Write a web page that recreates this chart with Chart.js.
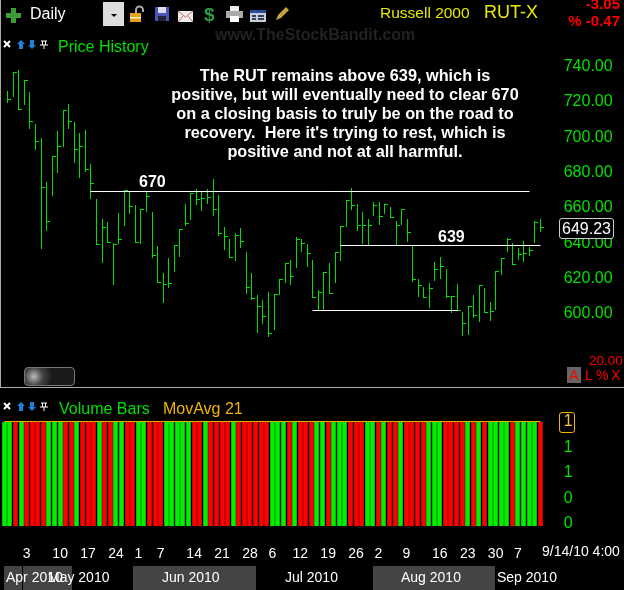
<!DOCTYPE html>
<html>
<head>
<meta charset="utf-8">
<script src="https://cdn.jsdelivr.net/npm/chart.js@4"></script>
<style>
html, body { margin: 0; padding: 0; background: #000; }
#page { position: relative; width: 624px; height: 590px; overflow: hidden; background: #000; font-family: "Liberation Sans", sans-serif; }
#page canvas { position: absolute; left: 0; }
.t { position: absolute; white-space: nowrap; line-height: 1; }
.r { position: absolute; }
svg { position: absolute; overflow: visible; }
</style>
</head>
<body>
<div id="page">
  <canvas id="priceChart" width="624" height="397" style="top:0"></canvas>
  <canvas id="volumeChart" width="624" height="202" style="top:388px"></canvas>

  <div class="r" style="left:0;top:0;width:1px;height:388px;background:#aaa"></div>
  <div class="r" style="left:0;top:387px;width:624px;height:1px;background:#aaa"></div>

  <!-- toolbar -->
  <svg style="left:6px;top:8px" width="15" height="15"><path d="M5 0h5v5h5v5h-5v5h-5v-5h-5v-5h5z" fill="#3f9c35"/></svg>
  <div class="t" style="left:30px;top:6px;font-size:16px;color:#fff">Daily</div>
  <div class="r" style="left:103px;top:2px;width:21px;height:24px;background:#ddd"></div>
  <svg style="left:111px;top:14px" width="6" height="4"><path d="M0 0h6l-3 3z" fill="#000"/></svg>
  <svg style="left:130px;top:6px" width="16" height="16"><path d="M6 7v-3a3.5 3.5 0 0 1 7 0v2" fill="none" stroke="#aaa" stroke-width="2"/><rect x="0" y="7" width="11" height="9" fill="#e8a020"/><rect x="0" y="11" width="11" height="1.5" fill="#fff3c0"/></svg>
  <svg style="left:155px;top:7px" width="14" height="14"><rect width="14" height="14" fill="#4a55b8"/><rect x="3" y="0" width="8" height="6" fill="#dde"/><rect x="3" y="9" width="8" height="5" fill="#223"/></svg>
  <svg style="left:178px;top:11px" width="15" height="11"><rect width="15" height="11" fill="#eee"/><path d="M0 0l7.5 6l7.500-6M0 11l5-6M15 11l-5-6" fill="none" stroke="#c66" stroke-width="1"/></svg>
  <div class="t" style="left:204px;top:5px;font-size:19px;font-weight:bold;color:#2e9a4a">$</div>
  <svg style="left:226px;top:6px" width="17" height="16"><rect x="4" y="0" width="9" height="5" fill="#eee"/><rect x="0" y="5" width="17" height="7" fill="#aaa"/><rect x="4" y="10" width="9" height="6" fill="#fff"/></svg>
  <svg style="left:250px;top:10px" width="16" height="12"><rect width="16" height="12" fill="#ccd"/><rect width="16" height="3" fill="#2a4a9a"/><rect x="2" y="5" width="4" height="2" fill="#345"/><rect x="8" y="5" width="6" height="2" fill="#345"/><rect x="2" y="8" width="4" height="2" fill="#345"/><rect x="8" y="8" width="6" height="2" fill="#345"/></svg>
  <svg style="left:275px;top:7px" width="14" height="14"><path d="M1 13l2-5l8-8l3 3l-8 8z" fill="#c9a040"/></svg>
  <div class="t" style="left:215px;top:27px;font-size:16px;font-weight:bold;color:#222">www.TheStockBandit.com</div>
  <div class="t" style="left:380px;top:5px;font-size:15.500px;color:#e8e800">Russell 2000</div>
  <div class="t" style="left:484px;top:3px;font-size:18px;color:#e8e800">RUT-X</div>
  <div class="t" style="right:4px;top:-4px;font-size:15px;font-weight:bold;color:#f00">-3.05</div>
  <div class="t" style="right:4px;top:13px;font-size:15px;font-weight:bold;color:#f00">% -0.47</div>

  <!-- panel headers -->
  <svg style="left:3px;top:40px" width="46" height="10"><path d="M1 1l6 6M7 1l-6 6" stroke="#fff" stroke-width="2"/><path d="M14 4l4-4l4 4h-2v5h-4v-5z" fill="#1e7fd8"/><path d="M25 5l4 4l4-4h-2v-5h-4v5z" fill="#1e7fd8"/><path d="M38 1h6M39.500 1v4M42.500 1v4M37 5h8M41 5v4" stroke="#fff" stroke-width="1" fill="none"/></svg>
  <div class="t" style="left:58px;top:39px;font-size:16px;color:#00e000">Price History</div>
  <svg style="left:3px;top:402px" width="46" height="10"><path d="M1 1l6 6M7 1l-6 6" stroke="#fff" stroke-width="2"/><path d="M14 4l4-4l4 4h-2v5h-4v-5z" fill="#1e7fd8"/><path d="M25 5l4 4l4-4h-2v-5h-4v5z" fill="#1e7fd8"/><path d="M38 1h6M39.500 1v4M42.500 1v4M37 5h8M41 5v4" stroke="#fff" stroke-width="1" fill="none"/></svg>
  <div class="t" style="left:59px;top:401px;font-size:16px;color:#00e000">Volume Bars</div>
  <div class="t" style="left:163px;top:401px;font-size:16px;color:#f0b400">MovAvg 21</div>

  <!-- comment text -->
  <div class="t" style="left:130px;top:66px;width:430px;text-align:center;font-size:16.300px;font-weight:bold;line-height:19px;color:#fff">The RUT remains above 639, which is<br>positive, but will eventually need to clear 670<br>on a closing basis to truly be on the road to<br>recovery.&nbsp; Here it's trying to rest, which is<br>positive and not at all harmful.</div>
  <div class="t" style="left:139px;top:174px;font-size:16px;font-weight:bold;color:#fff">670</div>
  <div class="t" style="left:438px;top:229px;font-size:16px;font-weight:bold;color:#fff">639</div>

  <!-- last price box, scroll button, scale buttons -->
  <div class="t" style="left:559px;top:218px;width:53px;height:19px;border:1px solid #ccc;border-radius:3px;background:#000;color:#fff;font-size:16px;line-height:19px;text-align:center">649.23</div>
  <div class="r" style="left:24px;top:367px;width:49px;height:17px;border:1px solid #777;border-radius:4px;background:radial-gradient(circle at 18% 50%,#bbb 0,#444 22%,#1a1a1a 45%)"></div>
  <div class="t" style="left:589px;top:354px;font-size:13.500px;color:#f00">20.00</div>
  <div class="t" style="left:567px;top:367px;width:14px;height:16px;background:#666;color:#f00;font-size:14px;line-height:16px;text-align:center">A</div>
  <div class="t" style="left:585px;top:368px;font-size:14px;color:#f00">L</div>
  <div class="t" style="left:596px;top:368px;font-size:14px;color:#f00">%</div>
  <div class="t" style="left:611px;top:368px;font-size:14px;color:#f00">X</div>

  <!-- volume current value box -->
  <div class="r" style="left:559px;top:412px;width:14px;height:19px;border:1px solid #f0b400;border-radius:3px"></div>

  <!-- date and month band -->
  <div class="t" style="left:542px;top:544px;font-size:14px;color:#fff">9/14/10 4:00</div>
  <div class="r" style="left:4px;top:566px;width:18px;height:24px;background:#444"></div>
  <div class="r" style="left:23px;top:566px;width:49px;height:24px;background:#444"></div>
  <div class="r" style="left:133px;top:566px;width:123px;height:24px;background:#444"></div>
  <div class="r" style="left:373px;top:566px;width:122px;height:24px;background:#444"></div>
  <div class="t" style="left:6px;top:570px;font-size:14px;color:#fff">Apr 2010</div>
  <div class="t" style="left:48px;top:570px;font-size:14px;color:#fff">May 2010</div>
  <div class="t" style="left:162px;top:570px;font-size:14px;color:#fff">Jun 2010</div>
  <div class="t" style="left:285px;top:570px;font-size:14px;color:#fff">Jul 2010</div>
  <div class="t" style="left:401px;top:570px;font-size:14px;color:#fff">Aug 2010</div>
  <div class="t" style="left:497px;top:570px;font-size:14px;color:#fff">Sep 2010</div>
</div>

<script>
let highs = [
    726.1, 736.8, 738.1, 732.4, 725.4, 707.8, 699.8, 674.6, 689.2, 703.4,
    715.3, 718.6, 708.4, 702.7, 704.4, 685.1, 665.2, 653.8, 652.3, 640.2,
    657.2, 669.9, 668.8, 661.8, 659.5, 668.8, 657.8, 638.5, 623.1, 631.6,
    639.0, 648.1, 662.3, 668.4, 670.9, 668.9, 670.9, 676.5, 667.6, 649.3,
    642.4, 645.9, 648.7, 635.1, 623.1, 610.6, 607.8, 612.3, 611.2, 619.7,
    628.8, 630.5, 643.6, 642.4, 639.6, 630.5, 613.5, 623.7, 628.8, 634.8,
    649.8, 664.6, 671.4, 662.3, 657.8, 653.8, 663.5, 663.5, 662.3, 660.6,
    652.7, 659.5, 653.8, 638.5, 619.7, 615.2, 617.4, 629.4, 632.2, 625.4,
    610.2, 616.9, 601.0, 604.7, 610.6, 616.1, 614.6, 606.6, 624.3, 631.6,
    642.8, 640.2, 637.3, 641.3, 637.9, 652.7, 653.8
];

let lows = [
    719.2, 722.9, 715.7, 718.2, 704.5, 692.6, 636.5, 646.8, 667.0, 679.7,
    694.5, 704.7, 685.4, 676.9, 680.3, 664.9, 639.0, 628.6, 639.9, 616.6,
    639.4, 649.6, 656.4, 639.9, 639.4, 657.6, 631.8, 617.2, 606.4, 614.4,
    623.5, 632.0, 650.0, 653.4, 661.4, 658.0, 662.5, 655.7, 644.3, 636.4,
    631.8, 630.1, 637.5, 611.0, 607.8, 589.4, 594.5, 586.8, 591.1, 610.4,
    617.2, 616.5, 625.7, 634.8, 626.3, 608.7, 602.1, 602.1, 611.0, 617.2,
    630.1, 649.0, 659.1, 647.2, 639.4, 638.5, 655.7, 650.6, 656.8, 654.1,
    638.5, 650.6, 640.9, 618.2, 609.7, 608.7, 603.4, 618.4, 619.5, 608.7,
    600.7, 601.5, 587.7, 588.2, 597.9, 595.1, 600.7, 596.2, 602.4, 621.8,
    634.8, 627.7, 630.5, 629.1, 632.8, 640.3, 646.4
];

let closes = [
    721.4, 736.5, 716.0, 732.1, 708.9, 697.7, 671.6, 652.1, 688.9, 694.7,
    715.0, 708.9, 693.0, 694.7, 681.7, 673.7, 639.3, 648.7, 640.2, 639.2,
    641.9, 669.6, 660.8, 640.2, 659.2, 666.5, 633.1, 617.8, 616.9, 617.4,
    638.7, 647.8, 651.3, 668.1, 664.9, 665.2, 666.1, 659.3, 645.3, 643.8,
    632.1, 644.1, 640.7, 615.2, 608.5, 604.0, 598.3, 589.0, 610.9, 619.4,
    628.5, 620.9, 641.9, 639.6, 633.9, 609.3, 612.3, 623.4, 611.8, 634.5,
    649.5, 664.3, 661.2, 649.8, 649.8, 649.8, 661.2, 654.9, 662.0, 654.4,
    649.8, 658.9, 645.9, 619.7, 616.3, 609.0, 614.6, 625.4, 627.1, 609.8,
    609.9, 602.1, 594.7, 604.4, 599.0, 615.9, 601.0, 601.5, 624.0, 631.3,
    641.9, 628.2, 633.4, 633.9, 635.6, 651.5, 648.7
];

// 1 = up day (green), 0 = down day (red)
let volumeUp = [
    1, 1, 0, 1, 0, 0, 0, 0, 1, 1,
    1, 0, 0, 1, 0, 0, 0, 1, 0, 0,
    1, 1, 0, 0, 1, 1, 0, 0, 0, 1,
    1, 1, 1, 1, 0, 0, 1, 0, 0, 0,
    0, 1, 0, 0, 0, 0, 0, 0, 1, 1,
    1, 0, 1, 0, 0, 0, 1, 1, 0, 1,
    1, 1, 0, 0, 0, 1, 1, 0, 1, 0,
    0, 1, 0, 0, 0, 0, 1, 1, 1, 0,
    0, 0, 0, 1, 0, 1, 0, 1, 1, 1,
    1, 0, 1, 1, 1, 1, 0
];

let volumes = [
    1, 1, 1, 1, 1, 1, 1, 1, 1, 1,
    1, 1, 1, 1, 1, 1, 1, 1, 1, 1,
    1, 1, 1, 1, 1, 1, 1, 1, 1, 1,
    1, 1, 1, 1, 1, 1, 1, 1, 1, 1,
    1, 1, 1, 1, 1, 1, 1, 1, 1, 1,
    1, 1, 1, 1, 1, 1, 1, 1, 1, 1,
    1, 1, 1, 1, 1, 1, 1, 1, 1, 1,
    1, 1, 1, 1, 1, 1, 1, 1, 1, 1,
    1, 1, 1, 1, 1, 1, 1, 1, 1, 1,
    1, 1, 1, 1, 1, 1, 1
];

let priceTicks = [600, 620, 640, 660, 680, 700, 720, 740];
let volumeTicks = [0, 0.25, 0.5, 0.75, 1];
let volumeTickLabels = ['0', '0', '1', '1', '1'];

// bar index of each date label on the bottom axis
let dateTickBars = [4, 10, 15, 20, 24, 28, 34, 39, 44, 48, 53, 58, 63, 67, 72, 78, 83, 88, 92];
let dateTickLabels = ['3', '10', '17', '24', '1', '7', '14', '21', '28', '6', '12', '19', '26', '2', '9', '16', '23', '30', '7'];

// hand drawn trend lines: [first bar, last bar, price]
let trendLines = [
    [15, 94, 669.2],
    [60, 96, 638.5],
    [55, 81, 602.1]
];

const barLabels = highs.map((h, i) => i);
const plotLeft = 1.5;
const axisWidth = 80.9;

// keep bars, ticks and lines on whole pixels so they stay as hard as the original
const snapToPixels = {
    id: 'snapToPixels',
    afterDatasetsUpdate(chart) {
        chart.data.datasets.forEach((ds, i) => {
            chart.getDatasetMeta(i).data.forEach(el => {
                el.x = Math.floor(el.x) + 0.5;
                if (el.base !== undefined) {
                    el.y = Math.round(el.y);
                    el.base = Math.round(el.base);
                } else {
                    el.y = Math.floor(el.y) + 0.5;
                }
            });
        });
    }
};

// close tick: sticks out to the right of the bar only
const closeTick = document.createElement('canvas');
closeTick.width = 7;
closeTick.height = 1;
const tickCtx = closeTick.getContext('2d');
tickCtx.fillStyle = '#00e000';
tickCtx.fillRect(3, 0, 4, 1);

const lineDatasets = trendLines.map(l => ({
    type: 'line',
    data: [{ x: l[0], y: l[2] }, { x: l[1], y: l[2] }],
    borderColor: '#fff',
    borderWidth: 1,
    pointRadius: 0,
    order: 1
}));

const priceChart = new Chart(document.getElementById('priceChart'), {
    type: 'bar',
    data: {
        labels: barLabels,
        datasets: [{
            data: highs.map((h, i) => [lows[i], h]),
            backgroundColor: '#00e000',
            barThickness: 1,
            inflateAmount: 0,
            order: 3
        }, {
            type: 'line',
            data: closes,
            showLine: false,
            pointStyle: closeTick,
            order: 2
        }].concat(lineDatasets)
    },
    options: {
        responsive: false,
        animation: false,
        events: [],
        layout: { padding: { left: plotLeft, top: 31.4, bottom: 22.2 } },
        plugins: { legend: { display: false }, tooltip: { enabled: false } },
        scales: {
            x: { display: false },
            y: {
                position: 'right',
                min: 570,
                max: 760,
                grid: { display: false, drawTicks: false },
                border: { display: false },
                afterBuildTicks: s => { s.ticks = priceTicks.map(v => ({ value: v })); },
                afterFit: s => { s.width = axisWidth; },
                ticks: {
                    padding: 20.6,
                    color: '#00e000',
                    font: { family: 'Liberation Sans', size: 16 },
                    callback: v => v.toFixed(2)
                }
            }
        }
    },
    plugins: [snapToPixels]
});

const volumeChart = new Chart(document.getElementById('volumeChart'), {
    type: 'bar',
    data: {
        labels: barLabels,
        datasets: [{
            data: volumes,
            base: -0.02,
            backgroundColor: volumeUp.map(u => u ? '#00f000' : '#ff0000'),
            barThickness: 4.6,
            inflateAmount: 0,
            order: 2
        }, {
            type: 'line',
            data: volumes,
            borderColor: '#f0b400',
            borderWidth: 1,
            pointRadius: 0,
            clip: false,
            order: 1
        }]
    },
    options: {
        responsive: false,
        animation: false,
        events: [],
        layout: { padding: { left: plotLeft, top: 33.5 } },
        plugins: { legend: { display: false }, tooltip: { enabled: false } },
        scales: {
            x: {
                grid: { display: false, drawTicks: false },
                border: { display: false },
                afterFit: s => { s.height = 64; },
                ticks: {
                    autoSkip: false,
                    maxRotation: 0,
                    padding: 20,
                    color: '#fff',
                    font: { family: 'Liberation Sans', size: 14 },
                    callback: (v, i) => {
                        const at = dateTickBars.indexOf(i);
                        return at < 0 ? null : dateTickLabels[at];
                    }
                }
            },
            y: {
                position: 'right',
                min: -0.02,
                max: 1,
                grid: { display: false, drawTicks: false },
                border: { display: false },
                afterBuildTicks: s => { s.ticks = volumeTicks.map(v => ({ value: v })); },
                afterFit: s => { s.width = axisWidth; },
                ticks: {
                    padding: 20.6,
                    color: c => c.index === 4 ? '#f0c040' : '#00e000',
                    font: { family: 'Liberation Sans', size: 16 },
                    callback: (v, i) => volumeTickLabels[i]
                }
            }
        }
    },
    plugins: [snapToPixels]
});
</script>
</body>
</html>
